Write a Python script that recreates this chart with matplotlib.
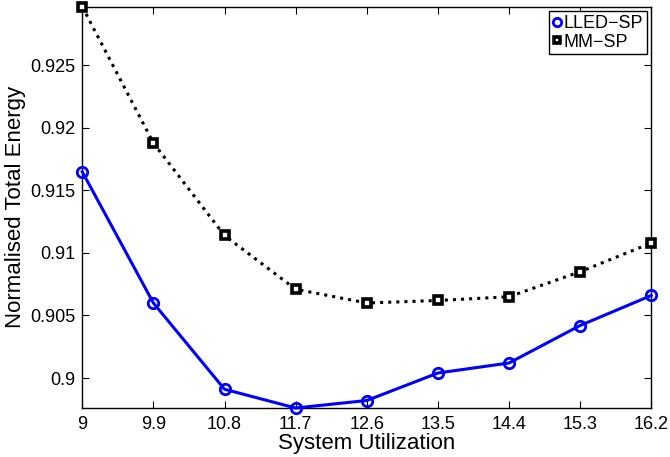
import matplotlib
matplotlib.use("Agg")
import matplotlib.pyplot as plt

plt.rcParams['font.family'] = ['Liberation Sans', 'DejaVu Sans']

utilization = [9, 9.9, 10.8, 11.7, 12.6, 13.5, 14.4, 15.3, 16.2]
lled_sp = [0.9165, 0.9060, 0.8991, 0.8976, 0.8982, 0.9004, 0.9012, 0.9042, 0.9066]
mm_sp = [0.9297, 0.9188, 0.9114, 0.9071, 0.9060, 0.9062, 0.9065, 0.9085, 0.9108]
ytick_vals = [0.9, 0.905, 0.91, 0.915, 0.92, 0.925]
ytick_labels = ['0.9', '0.905', '0.91', '0.915', '0.92', '0.925']

fig = plt.figure(figsize=(6.7, 4.57), dpi=100)
ax = fig.add_axes([0.1228, 0.1072, 0.8492, 0.8781])

ax.plot(utilization, lled_sp, color='#0000ff', linestyle='-', linewidth=2.2,
        marker='o', markersize=7.5, markerfacecolor='none', markeredgewidth=2,
        label='LLED\u2212SP', clip_on=False, zorder=3)
ax.plot(utilization, mm_sp, color='black', linestyle=':', linewidth=2.2,
        marker='s', markersize=6, markerfacecolor='white', markeredgewidth=2.6,
        label='MM\u2212SP', clip_on=False, zorder=3)

ax.set_xlim(9, 16.2)
ax.set_ylim(min(lled_sp), max(mm_sp))
ax.set_xticks(utilization)
ax.set_xticklabels([f'{u:g}' for u in utilization])
ax.set_yticks(ytick_vals)
ax.set_yticklabels(ytick_labels)
ax.tick_params(direction='in', top=True, right=True, labelsize=13, length=5)
ax.tick_params(axis='x', pad=6)
ax.tick_params(axis='y', pad=5)
for sp in ax.spines.values():
    sp.set_linewidth(1.0)

ax.set_xlabel('System Utilization', fontsize=16, labelpad=0)
ax.set_ylabel('Normalised Total Energy', fontsize=16, labelpad=3)

leg = ax.legend(loc='upper right', fontsize=13, handlelength=0.5, handletextpad=0.1,
                borderpad=0.2, labelspacing=0.1, borderaxespad=0.25, fancybox=False,
                framealpha=1, markerscale=0.8)
leg.get_frame().set_edgecolor('black')
leg.get_frame().set_linewidth(1.0)
for h in leg.get_lines():
    h.set_linestyle('none')

fig.savefig('out.png', dpi=100)
